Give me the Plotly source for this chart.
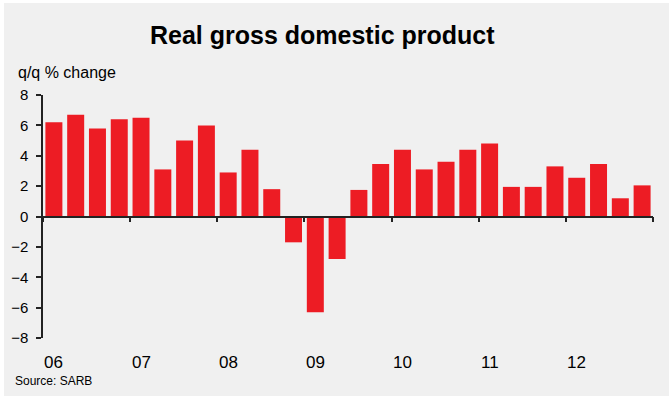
import plotly.graph_objects as go

# Quarterly real GDP growth, q/q % change (seasonally adjusted annualised), 2006Q1-2012Q4
quarters = [f"{y}Q{q}" for y in range(2006, 2013) for q in range(1, 5)]
gdp_growth = [6.2, 6.7, 5.8, 6.4, 6.5, 3.1, 5.0, 6.0,
              2.9, 4.4, 1.8, -1.7, -6.3, -2.8, 1.75, 3.45,
              4.4, 3.1, 3.6, 4.4, 4.8, 1.95, 1.95, 3.3,
              2.55, 3.45, 1.2, 2.05]
year_labels = ["06", "07", "08", "09", "10", "11", "12"]
y_ticks = [-8, -6, -4, -2, 0, 2, 4, 6, 8]

RED = "#ED1C24"
BG = "#F0F0F0"
AXIS = "#222222"
FONT = "Liberation Sans, Arial, sans-serif"

positions = list(range(len(quarters)))
year_starts = [4 * i for i in range(len(year_labels))]
year_bounds = [4 * i - 0.5 for i in range(len(year_labels) + 1)]

fig = go.Figure()
fig.add_trace(go.Bar(
    x=positions, y=gdp_growth, marker=dict(color=RED, line=dict(width=0)),
    customdata=quarters, hovertemplate="%{customdata}: %{y}<extra></extra>",
))

L, R, T, B = 43, 17, 95, 58
W, H = 670, 396
pw, ph = W - L - R, H - T - B


def px_x(p):
    return (p - L) / pw


def px_y(p):
    return (H - B - p) / ph


shapes = [
    # light grey chart panel
    dict(type="rect", xref="paper", yref="paper", layer="below",
         x0=px_x(4), x1=px_x(669), y0=px_y(396), y1=px_y(3),
         fillcolor=BG, line=dict(width=0)),
]

annotations = [
    dict(text="<b>Real gross domestic product</b>", xref="paper", yref="paper",
         x=px_x(322.5), y=px_y(35), xanchor="center", yanchor="middle",
         showarrow=False, font=dict(size=25, color="black", family=FONT)),
    dict(text="q/q % change", xref="paper", yref="paper",
         x=px_x(16), y=px_y(72), xanchor="left", yanchor="middle",
         showarrow=False, font=dict(size=16, color="black", family=FONT)),
    dict(text="Source: SARB", xref="paper", yref="paper",
         x=px_x(13), y=px_y(381), xanchor="left", yanchor="middle",
         showarrow=False, font=dict(size=12, color="black", family=FONT)),
]
for xs, lab in zip(year_starts, year_labels):
    annotations.append(dict(text=lab, xref="x", yref="paper", x=xs, y=px_y(362),
                            xanchor="center", yanchor="middle", showarrow=False,
                            font=dict(size=17, color="black", family=FONT)))

fig.update_layout(
    width=W, height=H,
    margin=dict(l=L, r=R, t=T, b=B, pad=0),
    paper_bgcolor="white", plot_bgcolor=BG,
    bargap=0.22, showlegend=False,
    font=dict(family=FONT, color="black"),
    shapes=shapes, annotations=annotations,
    xaxis=dict(range=[-0.5, len(quarters) - 0.5], anchor="free", position=0.5,
               showline=True, linecolor=AXIS, linewidth=1.5,
               tickmode="array", tickvals=year_bounds, ticks="outside",
               ticklen=5, tickwidth=1.5, tickcolor=AXIS,
               showticklabels=False, showgrid=False, zeroline=False),
    yaxis=dict(range=[-8, 8], tickmode="array", tickvals=y_ticks,
               showline=True, linecolor=AXIS, linewidth=1.5,
               ticks="outside", ticklen=5, tickwidth=1.5, tickcolor=AXIS,
               ticklabelstandoff=5, tickfont=dict(size=15, color="black"),
               showgrid=False, zeroline=False),
)

fig.write_html("out.html")
